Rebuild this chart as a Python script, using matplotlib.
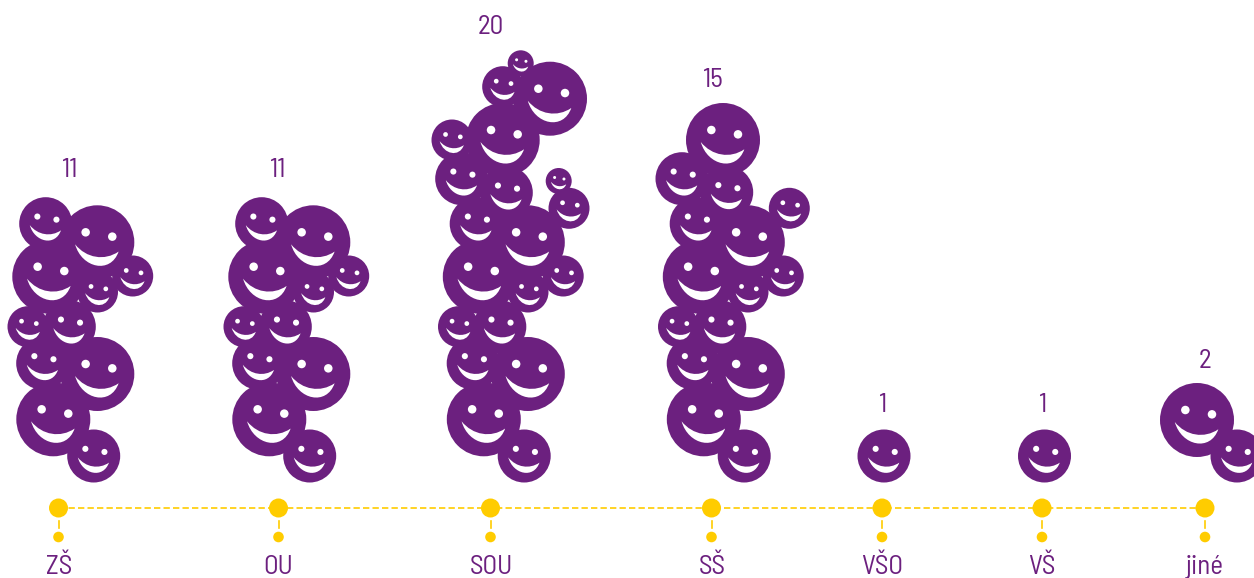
# -*- coding: utf-8 -*-
"""Pictogram chart: one smiley per respondent, by type of school."""
import matplotlib
matplotlib.use("Agg")
import matplotlib.pyplot as plt
from matplotlib.patches import Circle, PathPatch
from matplotlib.path import Path
from matplotlib.transforms import Affine2D

categories = ["ZŠ", "OU", "SOU", "SŠ", "VŠO", "VŠ", "jiné"]
counts = [11, 11, 20, 15, 1, 1, 2]

PURPLE = "#6C207F"
YELLOW = "#FFCC00"
WHITE = "#ffffff"

# smiley sizes in pixels
XL, L, M, S = 37, 26.5, 20.5, 13

# ---- layout, all in picture pixels (x, y, radius) ----
AXIS_X = [58.5, 278.5, 490.5, 711.5, 882, 1042, 1205]
LABEL_X = [59, 278, 491, 712, 882, 1042, 1205]
COUNT_X = [69, 277, 491, 712, 882, 1042, 1205]
COUNT_Y = [177, 177, 34, 87, 412, 412, 368]
AXIS_Y = 508
DOT_Y = 537
LABEL_Y = 574

BASE = [(93.7, 456, L), (53.3, 419.3, XL), (97.3, 374, XL), (42.7, 363.3, L),
        (69.3, 326.7, L), (28, 326.7, M), (49.3, 276.7, XL), (97.5, 292, M),
        (132.7, 276, M), (97.3, 242.3, XL), (45.7, 223.7, L)]
EXTRA_SOU = [(461.7, 178.7, L), (506.3, 192.7, L), (502.7, 140, XL),
             (452, 140, M), (550, 98.7, XL), (502.7, 86.7, M),
             (520.7, 63.3, S), (569, 208.3, M), (558.7, 181, S)]
EXTRA_SS = [(723, 140, XL), (682, 178.7, L), (726.7, 192.3, L),
            (789.3, 208.3, M)]


def shifted(pack, dx):
    return [(x + dx, y, r) for x, y, r in pack]


clusters = [
    BASE,
    shifted(BASE, 216),
    shifted(BASE, 430.5) + EXTRA_SOU,
    shifted(BASE, 650.5) + EXTRA_SS,
    [(884, 456, L)],
    [(1044.5, 456, L)],
    [(1237, 456, L), (1197, 420, XL)],
]

plt.rcParams["font.family"] = ["Barlow Semi Condensed", "Liberation Sans",
                               "DejaVu Sans"]

fig = plt.figure(figsize=(12.54, 5.78), dpi=100)
ax = fig.add_axes([0, 0, 1, 1])
ax.set_xlim(0, 1254)
ax.set_ylim(578, 0)
ax.axis("off")

# crescent mouth in a unit circle, y pointing down
MOUTH = Path([(-0.60, 0.054), (-0.42, 0.70), (0.36, 0.87), (0.576, 0.25),
              (0.20, 0.51), (-0.30, 0.43), (-0.60, 0.054)],
             [Path.MOVETO, Path.CURVE4, Path.CURVE4, Path.CURVE4,
              Path.CURVE4, Path.CURVE4, Path.CURVE4])


def face(x, y, r):
    ax.add_patch(Circle((x - 0.315 * r, y - 0.27 * r), 0.115 * r, fc=WHITE,
                        ec="none", zorder=4))
    ax.add_patch(Circle((x + 0.405 * r, y - 0.153 * r), 0.115 * r, fc=WHITE,
                        ec="none", zorder=4))
    move = Affine2D().scale(r).translate(x, y)
    ax.add_patch(PathPatch(MOUTH.transformed(move), fc=WHITE, ec="none",
                           zorder=4))


# circles first, the faces all stay visible on top of the overlaps
for pack, n in zip(clusters, counts):
    for x, y, r in pack[:n]:
        ax.add_patch(Circle((x, y), r, fc=PURPLE, ec="none", zorder=3))
        face(x, y, r)

# ---- timeline ----
ax.plot([AXIS_X[0], AXIS_X[-1]], [AXIS_Y, AXIS_Y], color=YELLOW, lw=1.2,
        dashes=(3.8, 1.9), zorder=1)
for x in AXIS_X:
    ax.plot([x, x], [AXIS_Y + 13, AXIS_Y + 20], color=YELLOW, lw=1.2, zorder=1)
    ax.add_patch(Circle((x, AXIS_Y), 9.5, fc=YELLOW, ec="none", zorder=2))
    ax.add_patch(Circle((x, DOT_Y), 5.3, fc=YELLOW, ec="none", zorder=2))

for x, label in zip(LABEL_X, categories):
    ax.text(x, LABEL_Y, label, ha="center", va="baseline", fontsize=19.5,
            color=PURPLE)
for x, y, n in zip(COUNT_X, COUNT_Y, counts):
    ax.text(x, y, str(n), ha="center", va="baseline", fontsize=19.5,
            color=PURPLE)

fig.savefig("out.png", dpi=100, facecolor="white")
